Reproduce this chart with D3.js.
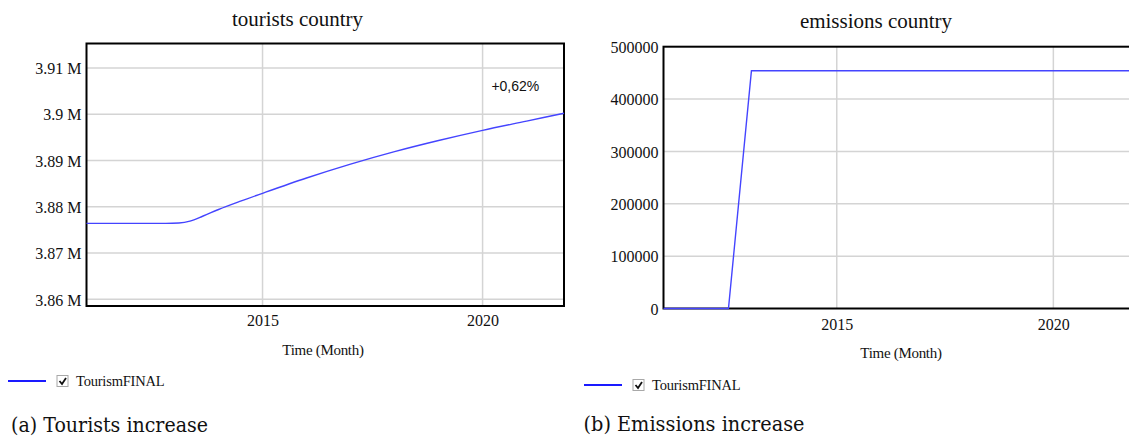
<!DOCTYPE html>
<html>
<head>
<meta charset="utf-8">
<script src="https://cdn.jsdelivr.net/npm/d3@7"></script>
<style>
  html, body { margin: 0; padding: 0; background: #fff; }
  svg { display: block; }
  .serif { font-family: "Liberation Serif", "Times New Roman", Times, "Nimbus Roman", "DejaVu Serif", serif; }
</style>
</head>
<body>
<svg id="chart" width="1129" height="436"></svg>
<script>
// ---------------- DATA ----------------
// (a) tourists country — values in millions
const touristYears  = [2011, 2012, 2012.8, 2013.1, 2013.35, 2013.65, 2014, 2014.5, 2015, 2016, 2017, 2018, 2019, 2020, 2021, 2021.85];
const touristValues = [3.8764, 3.8764, 3.8764, 3.8765, 3.8769, 3.8780, 3.8794, 3.8812, 3.8829, 3.8862, 3.8892, 3.8919, 3.8943, 3.8965, 3.8985, 3.9002];
const touristYTicks = [3.86, 3.87, 3.88, 3.89, 3.9, 3.91];
const touristYDomain = [3.85855, 3.91527];

// (b) emissions country
const emissionYears  = [2011, 2012.5, 2013.03, 2015, 2020, 2021.85];
const emissionValues = [0, 0, 454000, 454000, 454000, 454000];
const emissionYTicks = [0, 100000, 200000, 300000, 400000, 500000];
const emissionYDomain = [0, 500000];

const xDomain = [2011, 2021.85];
const xTicks = [2015, 2020];

const titles = ["tourists country", "emissions country"];
const xAxisLabel = "Time (Month)";
const seriesName = "TourismFINAL";
const captions = ["(a) Tourists increase", "(b) Emissions increase"];
const annotationText = "+0,62%";

// ---------------- DRAW ----------------
const svg = d3.select("#chart");
const lineColor = "#4444ff";

function drawPanel(o) {
  const g = svg.append("g");
  const x = d3.scaleLinear().domain(xDomain).range([o.left, o.right]);
  const y = d3.scaleLinear().domain(o.yDomain).range([o.bottom, o.top]);

  // gridlines
  g.append("g").selectAll("line").data(o.yTicks.filter(v => y(v) > o.top + 2 && y(v) < o.bottom - 2))
    .join("line")
    .attr("x1", o.left).attr("x2", o.right)
    .attr("y1", d => y(d)).attr("y2", d => y(d))
    .attr("stroke", "#d4d4d4").attr("stroke-width", 1.5);
  g.append("g").selectAll("line").data(xTicks)
    .join("line")
    .attr("x1", d => x(d)).attr("x2", d => x(d))
    .attr("y1", o.top).attr("y2", o.bottom)
    .attr("stroke", "#d4d4d4").attr("stroke-width", 1.5);

  // frame
  g.append("rect")
    .attr("x", o.left).attr("y", o.top)
    .attr("width", o.right - o.left).attr("height", o.bottom - o.top)
    .attr("fill", "none").attr("stroke", "#000").attr("stroke-width", 2);

  // data line
  const line = d3.line().x((d, i) => x(o.xs[i])).y(d => y(d)).curve(o.curve);
  g.append("path").datum(o.ys)
    .attr("d", line)
    .attr("fill", "none")
    .attr("stroke", lineColor)
    .attr("stroke-width", 1.4);

  // y axis labels
  const yAxis = d3.axisLeft(y).tickValues(o.yTicks).tickSize(0).tickPadding(0).tickFormat(o.yFormat);
  const ya = g.append("g").attr("transform", `translate(${o.left - 5},0)`).call(yAxis);
  ya.attr("font-family", null).attr("font-size", null).attr("class", "serif");
  ya.select(".domain").remove();
  ya.selectAll("text")
    .attr("font-size", 16).attr("fill", "#111")
    .attr("dy", "0.36em");

  // x axis labels
  const xAxis = d3.axisBottom(x).tickValues(xTicks).tickSize(0).tickPadding(0).tickFormat(d3.format("d"));
  const xa = g.append("g").attr("transform", `translate(0,${o.bottom + o.xLabelOffset})`).call(xAxis);
  xa.attr("font-family", null).attr("font-size", null).attr("class", "serif");
  xa.select(".domain").remove();
  xa.selectAll("text")
    .attr("font-size", 16).attr("fill", "#111").attr("dy", 0);

  // title
  g.append("text").attr("class", "serif").attr("x", o.titleX).attr("y", o.titleY)
    .attr("text-anchor", "middle").attr("font-size", 21).attr("fill", "#111")
    .text(o.title);

  // x axis title
  g.append("text").attr("class", "serif").attr("x", o.axisTitleX).attr("y", o.axisTitleY)
    .attr("text-anchor", "middle").attr("font-size", 15)
    .attr("letter-spacing", -0.3).attr("fill", "#111")
    .text(xAxisLabel);

  // legend
  const lg = g.append("g").attr("transform", `translate(${o.legendX},${o.legendY})`);
  lg.append("line").attr("x1", 0).attr("x2", 38).attr("y1", 0).attr("y2", 0)
    .attr("stroke", "#1a1aff").attr("stroke-width", 2);
  lg.append("rect").attr("x", 49).attr("y", -5.5).attr("width", 11).attr("height", 11)
    .attr("fill", "#fff").attr("stroke", "#a8a8a8").attr("stroke-width", 1);
  lg.append("path").attr("d", "M51.5,0 L54,3 L58,-3")
    .attr("fill", "none").attr("stroke", "#111").attr("stroke-width", 1.8);
  lg.append("text").attr("class", "serif").attr("x", 68).attr("y", 4.5)
    .attr("font-size", 14.5).attr("fill", "#111")
    .attr("letter-spacing", -0.2)
    .text(seriesName);

  // caption
  g.append("text").attr("x", o.captionX).attr("y", o.captionY)
    .attr("font-family", "'DejaVu Serif', serif").attr("font-size", 21).attr("fill", "#111")
    .attr("textLength", o.captionW).attr("lengthAdjust", "spacingAndGlyphs")
    .text(o.caption);

  return { x, y, g };
}

const pA = drawPanel({
  left: 86.5, right: 564, top: 43.5, bottom: 306,
  xs: touristYears, ys: touristValues, yDomain: touristYDomain, yTicks: touristYTicks,
  yFormat: d => d + " M", curve: d3.curveMonotoneX, xLabelOffset: 20,
  title: titles[0], titleX: 297.5, titleY: 26,
  axisTitleX: 323, axisTitleY: 355,
  legendX: 8, legendY: 381,
  caption: captions[0], captionX: 11, captionY: 431.5, captionW: 197
});
// annotation of relative increase
pA.g.append("text")
  .attr("x", pA.x(2020.2)).attr("y", pA.y(3.9051))
  .attr("font-family", "'Liberation Sans', Arial, sans-serif").attr("font-size", 14).attr("fill", "#111")
  .text(annotationText);

drawPanel({
  left: 663.5, right: 1133.5, top: 46.7, bottom: 308.5,
  xs: emissionYears, ys: emissionValues, yDomain: emissionYDomain, yTicks: emissionYTicks,
  yFormat: d3.format("d"), curve: d3.curveLinear, xLabelOffset: 21,
  title: titles[1], titleX: 876, titleY: 28,
  axisTitleX: 901, axisTitleY: 358,
  legendX: 584, legendY: 385,
  caption: captions[1], captionX: 583.5, captionY: 430.5, captionW: 221
});
</script>
</body>
</html>
